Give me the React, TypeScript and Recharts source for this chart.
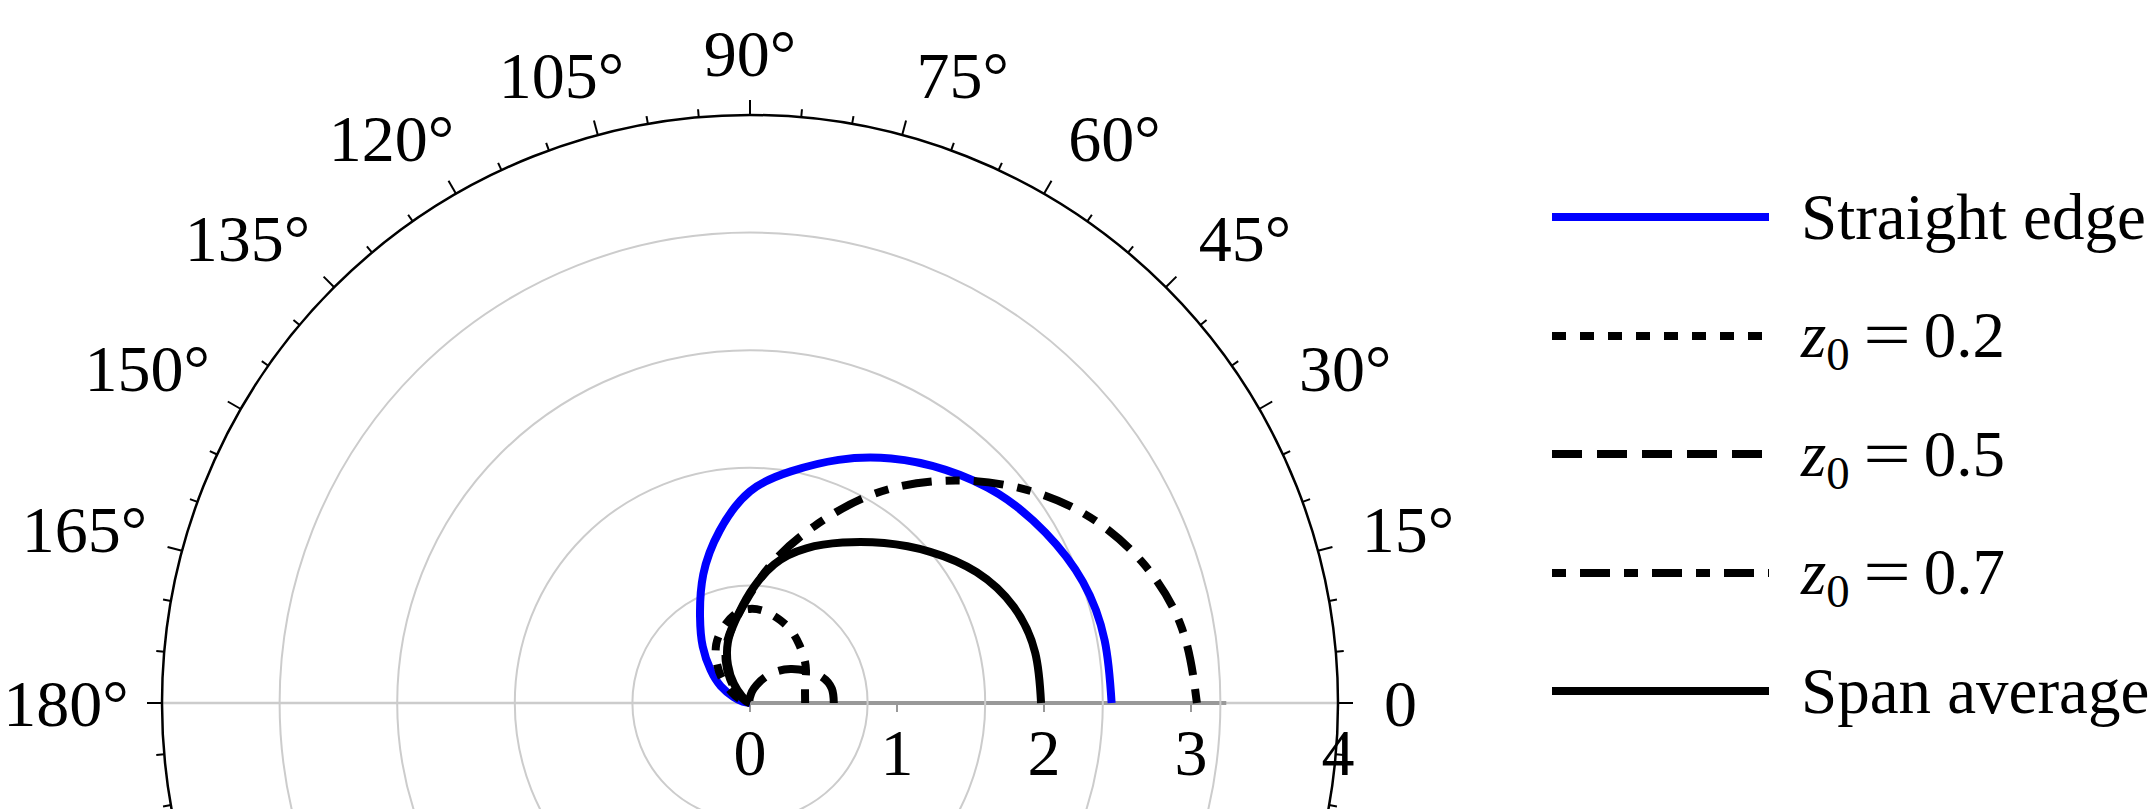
import React from 'react';
import { ScatterChart, Scatter, XAxis, YAxis, ReferenceDot, ReferenceLine, Legend } from 'recharts';

// polar samples, r at each angle (deg)
const ANGLES = [0, 10, 20, 30, 40, 50, 60, 70, 80, 90, 100, 110, 120, 130, 140, 150, 160, 170, 180];
const straightEdge = [2.46, 2.45, 2.41, 2.32, 2.21, 2.07, 1.92, 1.76, 1.6, 1.44, 1.19, 0.93, 0.68, 0.5, 0.35, 0.23, 0.12, 0.05, 0];
const z02 = [0.375, 0.38, 0.4, 0.44, 0.48, 0.52, 0.565, 0.6, 0.63, 0.64, 0.61, 0.54, 0.46, 0.35, 0.24, 0.14, 0.07, 0.02, 0];
const z05 = [0.57, 0.565, 0.52, 0.44, 0.36, 0.28, 0.2, 0.13, 0.08, 0.04, 0.02, 0, 0, 0, 0, 0, 0, 0, 0];
const z07 = [3.04, 2.98, 2.83, 2.6, 2.3, 1.97, 1.63, 1.28, 0.99, 0.74, 0.57, 0.45, 0.33, 0.21, 0.11, 0.05, 0.02, 0, 0];
const spanAverage = [1.98, 1.97, 1.91, 1.78, 1.6, 1.42, 1.26, 1.12, 0.96, 0.75, 0.57, 0.44, 0.3, 0.17, 0.07, 0.02, 0, 0, 0];

const GRID_RADII = [0.8, 1.6, 2.4, 3.2];
const RADIAL_TICKS = [0, 1, 2, 3, 4];
const ANGLE_LABELS = [0, 15, 30, 45, 60, 75, 90, 105, 120, 135, 150, 165, 180];
const R_MAX = 4;

// layout
const W = 2150;
const H = 809;
const CX = 750;
const CY = 703;
const PX = 147; // pixels per radial unit
const X_MIN = -4.2;
const X_MAX = 4.2;
const Y_MIN = -(H - CY) / PX;
const Y_MAX = 4.2;
const MARGIN = {
  top: CY - Y_MAX * PX,
  right: W - (CX + X_MAX * PX),
  bottom: 0,
  left: CX + X_MIN * PX,
};

const SERIF = '"Liberation Serif", "Times New Roman", serif';
const LINE_W = 8;
const TICK_FS = 66;

const rad = (a: number) => (a * Math.PI) / 180;

// polar -> cartesian, dropping repeated points at the origin
const toXY = (r: number[]) =>
  ANGLES.map((a, i) => ({ x: r[i] * Math.cos(rad(a)), y: r[i] * Math.sin(rad(a)), keep: !(r[i] === 0 && i > 0 && r[i - 1] === 0) }))
    .filter((p) => p.keep)
    .map(({ x, y }) => ({ x, y }));

const series = [
  { key: 'se', label: 'Straight edge', values: straightEdge, color: '#0000ff', dash: undefined as string | undefined },
  { key: 'z02', label: '0.2', values: z02, color: '#000', dash: '14 14' },
  { key: 'z05', label: '0.5', values: z05, color: '#000', dash: '30 15' },
  { key: 'z07', label: '0.7', values: z07, color: '#000', dash: '14 14 30 14' },
  { key: 'span', label: 'Span average', values: spanAverage, color: '#000', dash: undefined },
];

// ticks on the outer circle every 5 deg, longer every 15
const angleTicks: { a: number; len: number }[] = [];
for (let a = 0; a < 360; a += 5) angleTicks.push({ a, len: a % 15 === 0 ? 15 : 8 });

// label box sits just outside the rim
function labelPos(a: number, text: string) {
  const w = text.replace('°', '').length * 0.5 * TICK_FS + (text.includes('°') ? 0.38 * TICK_FS : 0);
  const c = Math.cos(rad(a));
  const s = Math.sin(rad(a));
  const pr = 630;
  let ox = 0;
  if (c > 0.01) ox = (w / 2 + 4) * Math.min(1, c / 0.25);
  else if (c < -0.01) ox = -(w / 2) * Math.min(0.92, 0.1 + 1.2 * -c);
  const oy = 20 * Math.min(1, s / 0.45);
  let px = pr * c + ox;
  px = Math.max(px, w / 2 + 4 - CX);
  return { x: px / PX, y: (pr * s + oy) / PX };
}

const Nothing = () => <g />;

function LegendBox() {
  return (
    <div style={{ fontFamily: SERIF, fontSize: 65, color: '#000' }}>
      {series.map((s) => (
        <div key={s.key} style={{ display: 'flex', alignItems: 'center', height: 118.5, whiteSpace: 'nowrap' }}>
          <svg width={217} height={20} style={{ flex: 'none' }}>
            <line x1={0} y1={10} x2={217} y2={10} stroke={s.color} strokeWidth={LINE_W} strokeDasharray={s.dash} />
          </svg>
          <span style={{ marginLeft: 32, lineHeight: 1.15 }}>
            {s.key.startsWith('z') ? (
              <>
                <i>z</i>
                <span style={{ fontSize: '0.72em', position: 'relative', top: '0.28em' }}>0</span>
                <span style={{ display: 'inline-block', width: 46, margin: '0 14px', textAlign: 'center', transform: 'scaleX(1.3)' }}>=</span>
                {s.label}
              </>
            ) : (
              s.label
            )}
          </span>
        </div>
      ))}
    </div>
  );
}

export default function App() {
  return (
    <div style={{ position: 'absolute', left: 0, top: 0, width: W, height: H, background: '#fff' }}>
      <ScatterChart width={W} height={H} margin={MARGIN}>
        <XAxis type="number" dataKey="x" domain={[X_MIN, X_MAX]} allowDataOverflow hide />
        <YAxis type="number" dataKey="y" domain={[Y_MIN, Y_MAX]} allowDataOverflow hide />

        {GRID_RADII.map((r) => (
          <ReferenceDot
            key={`g${r}`}
            x={0}
            y={0}
            r={r * PX}
            fill="none"
            stroke="#cccccc"
            strokeWidth={2}
            ifOverflow="hidden"
          />
        ))}
        <ReferenceLine
          segment={[{ x: -R_MAX, y: 0 }, { x: R_MAX, y: 0 }]}
          stroke="#cccccc"
          strokeWidth={2.5}
          ifOverflow="hidden"
        />
        <ReferenceLine
          segment={[{ x: 0, y: 0 }, { x: 3.24, y: 0 }]}
          stroke="#999999"
          strokeWidth={4}
          ifOverflow="hidden"
        />
        {RADIAL_TICKS.slice(0, 4).map((t) => (
          <ReferenceLine
            key={`rt${t}`}
            segment={[{ x: t, y: 0 }, { x: t, y: -9 / PX }]}
            stroke="#999999"
            strokeWidth={2}
            ifOverflow="hidden"
          />
        ))}
        <ReferenceDot x={0} y={0} r={R_MAX * PX} fill="none" stroke="#000" strokeWidth={2.5} ifOverflow="hidden" />
        {angleTicks.map(({ a, len }) => {
          const r2 = R_MAX + len / PX;
          return (
            <ReferenceLine
              key={`at${a}`}
              segment={[
                { x: R_MAX * Math.cos(rad(a)), y: R_MAX * Math.sin(rad(a)) },
                { x: r2 * Math.cos(rad(a)), y: r2 * Math.sin(rad(a)) },
              ]}
              stroke="#000"
              strokeWidth={2}
              ifOverflow="hidden"
            />
          );
        })}

        {series.map((s) => (
          <Scatter
            key={s.key}
            name={s.label}
            data={toXY(s.values)}
            fill={s.color}
            shape={Nothing}
            line={{ stroke: s.color, strokeWidth: LINE_W, strokeDasharray: s.dash, fill: 'none' }}
            lineJointType="natural"
            isAnimationActive={false}
          />
        ))}

        {ANGLE_LABELS.map((a) => {
          const text = a === 0 ? '0' : `${a}°`;
          const p = labelPos(a, text);
          return (
            <ReferenceDot
              key={`al${a}`}
              x={p.x}
              y={p.y}
              r={0}
              fill="none"
              stroke="none"
              ifOverflow="visible"
              label={{ value: text, position: 'center', fontSize: TICK_FS, fontFamily: SERIF, fill: '#000' }}
            />
          );
        })}
        {RADIAL_TICKS.map((t) => (
          <ReferenceDot
            key={`rl${t}`}
            x={t}
            y={-49 / PX}
            r={0}
            fill="none"
            stroke="none"
            ifOverflow="visible"
            label={{ value: String(t), position: 'center', fontSize: TICK_FS, fontFamily: SERIF, fill: '#000' }}
          />
        ))}

        <Legend
          layout="horizontal"
          align="center"
          verticalAlign="middle"
          wrapperStyle={{ left: 1552, top: 158, width: 598 }}
          content={() => <LegendBox />}
        />
      </ScatterChart>
    </div>
  );
}
